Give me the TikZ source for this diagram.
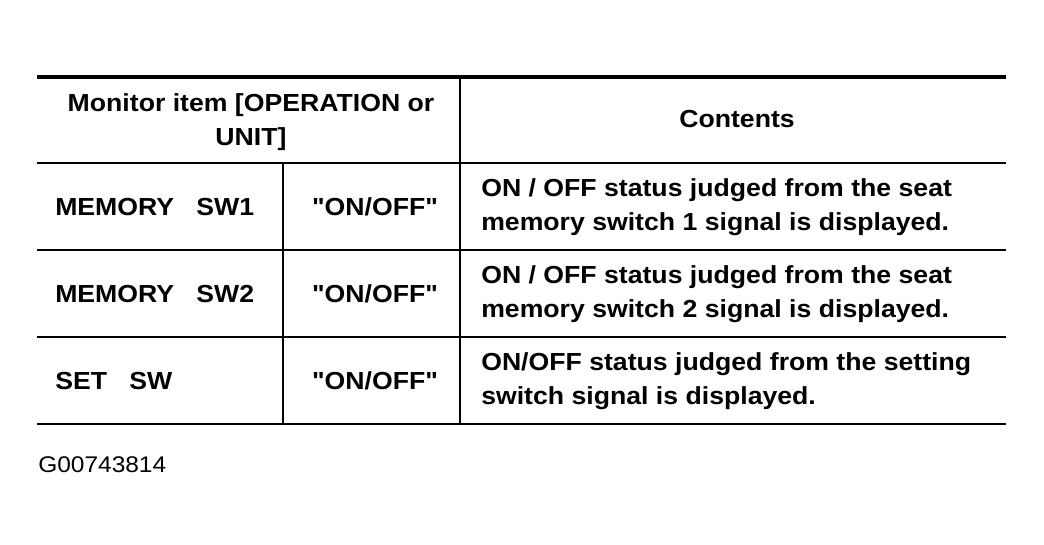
\documentclass[tikz,border=0pt]{standalone}
\usepackage{fontspec}
\setmainfont[FakeStretch=1.08]{Liberation Sans}
\newfontfamily\plainquote[FakeStretch=1.08]{Liberation Sans}
\usetikzlibrary{positioning}
\newcommand{\qt}[1]{{\plainquote\bfseries\symbol{34}#1\symbol{34}}}

\begin{document}
\begin{tikzpicture} [ x=0.75pt, y=-0.75pt,
		      every node/.style={inner sep=0pt, font=\fontsize{18.5}{25.5}\selectfont\bfseries},
		      cell/.style={anchor=center, align=center},
		      item/.style={anchor=west},
		      contents/.style={anchor=west, align=left},
		      rule/.style={line width=1.9pt},
		      toprule/.style={line width=3pt}
		    ]
  \useasboundingbox (0,0) rectangle (1044,545);

  % header
  \node[cell] (head1) at (251,122) {Monitor item [OPERATION or\\UNIT]};
  \node[cell] (head2) at (737,119) {Contents};

  % rows
  \node[item] (sw1) at (55,207) {MEMORY\hspace{0.9em}SW1};
  \node[cell] (val1) at (375,207) {\qt{ON/OFF}};
  \node[contents] (txt1) at (481,207) {ON / OFF status judged from the seat\\memory switch 1 signal is displayed.};

  \node[item] (sw2) at (55,294) {MEMORY\hspace{0.9em}SW2};
  \node[cell] (val2) at (375,294) {\qt{ON/OFF}};
  \node[contents] (txt2) at (481,294) {ON / OFF status judged from the seat\\memory switch 2 signal is displayed.};

  \node[item] (sw3) at (55,381) {SET\hspace{0.9em}SW};
  \node[cell] (val3) at (375,381) {\qt{ON/OFF}};
  \node[contents] (txt3) at (481,381) {ON/OFF status judged from the setting\\switch signal is displayed.};

  \node[anchor=west, font=\fontsize{17}{20}\selectfont] (code) at (38,465) {G00743814};

  % rules
  \draw[toprule] (37,77) -- (1006,77);
  \foreach \y in {163,250,337,424}
    \draw[rule] (37,\y) -- (1006,\y);
  \draw[line width=1.6pt] (460,77) -- (460,424);
  \draw[line width=1.6pt] (283,163) -- (283,424);
\end{tikzpicture}
\end{document}
